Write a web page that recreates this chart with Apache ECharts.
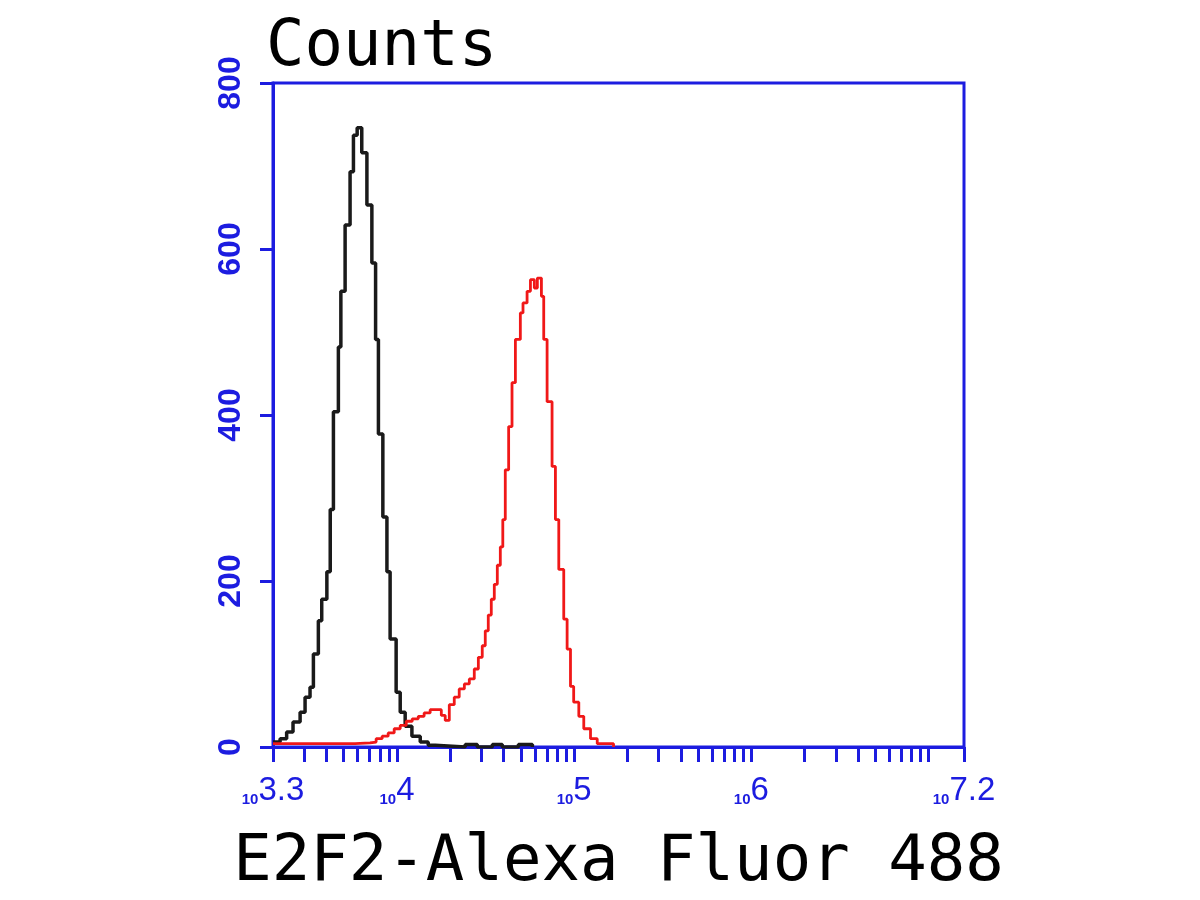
<!DOCTYPE html>
<html>
<head>
<meta charset="utf-8">
<script src="https://cdn.jsdelivr.net/npm/echarts@6/dist/echarts.min.js"></script>
<style>html,body{margin:0;padding:0;background:#fff}#c{width:1200px;height:900px}</style>
</head>
<body>
<div id="c"></div>
<script>
// x values are log10(fluorescence); y values are counts
const controlX = [3.300,3.340,3.377,3.413,3.453,3.481,3.509,3.528,3.556,3.575,3.604,3.623,3.641,3.669,3.683,3.707,3.735,3.754,3.775,3.801,3.830,3.858,3.879,3.895,3.920,3.943,3.961,3.995,4.018,4.046,4.084,4.131,4.176,4.216,4.385,4.453,4.538,4.594,4.685,4.764];
const controlY = [6,10,18,30,42,60,72,112,152,178,211,286,404,482,549,629,693,737,746,716,653,583,491,377,277,211,130,66,42,25,13,6,2,0,3,0,3,0,3,0];

const sampleX = [3.300,3.453,3.622,3.763,3.848,3.882,3.916,3.950,3.984,4.018,4.052,4.086,4.120,4.153,4.187,4.221,4.250,4.272,4.295,4.323,4.351,4.380,4.408,4.436,4.459,4.481,4.498,4.515,4.532,4.549,4.566,4.583,4.597,4.611,4.630,4.649,4.668,4.696,4.711,4.734,4.753,4.775,4.792,4.815,4.828,4.847,4.875,4.894,4.913,4.941,4.960,4.979,4.997,5.026,5.054,5.092,5.130,5.222];
const sampleY = [4,4,4,5,6,10,13,17,22,26,31,34,37,41,45,45,38,32,51,60,70,76,82,94,108,122,140,159,178,196,219,241,274,334,386,439,491,523,535,549,563,553,565,543,491,416,338,274,214,154,118,73,54,37,22,10,4,0];

const xLabelValues = [3.3, 4, 5, 6, 7.2];
const xLabelExponents = ['3.3', '4', '5', '6', '7.2'];
const tickDecades = [3, 4, 5, 6, 7];
const tickMultipliers = [1, 2, 3, 4, 5, 6, 7, 8, 9];
const yTicks = [0, 200, 400, 600, 800];

const xMin = 3.3, xMax = 7.2;
const tickValues = [xMin];
tickDecades.forEach(d => tickMultipliers.forEach(m => {
  const v = Math.log10(m * Math.pow(10, d));
  if (v > xMin + 1e-6 && v < xMax - 1e-6) tickValues.push(v);
}));
tickValues.push(xMax);

const BLUE = '#1c1ce0';
const chart = echarts.init(document.getElementById('c'), null, {renderer: 'canvas'});
chart.setOption({
  backgroundColor: '#ffffff',
  animation: false,
  title: {
    text: 'Counts', left: 266, top: 16, padding: 0,
    textStyle: {fontFamily: 'DejaVu Sans Mono', fontSize: 64, fontWeight: 'normal', color: '#000'}
  },
  grid: {left: 273, right: 236, top: 83, bottom: 152, show: true, borderColor: BLUE, borderWidth: 3, backgroundColor: 'transparent'},
  xAxis: {
    type: 'value', min: xMin, max: xMax,
    name: 'E2F2-Alexa Fluor 488', nameLocation: 'middle', nameGap: 84,
    nameTextStyle: {fontFamily: 'DejaVu Sans Mono', fontSize: 64, color: '#000'},
    axisLine: {show: true, lineStyle: {color: BLUE, width: 3}},
    axisTick: {show: true, customValues: tickValues, length: 15, lineStyle: {color: BLUE, width: 3}},
    splitLine: {show: false},
    axisLabel: {
      customValues: xLabelValues, margin: 27,
      formatter: function (v) {
        let idx = 0, best = 1e9;
        xLabelValues.forEach((x, i) => { if (Math.abs(x - v) < best) { best = Math.abs(x - v); idx = i; } });
        return '{s|10}{b|' + xLabelExponents[idx] + '}';
      },
      rich: {
        s: {fontSize: 15, fontWeight: 'bold', color: BLUE, fontFamily: 'Liberation Sans', verticalAlign: 'bottom'},
        b: {fontSize: 33, color: BLUE, fontFamily: 'Liberation Sans', verticalAlign: 'bottom'}
      }
    }
  },
  yAxis: {
    type: 'value', min: 0, max: 800, interval: 200,
    axisLine: {show: true, lineStyle: {color: BLUE, width: 3}},
    axisTick: {show: true, customValues: yTicks, length: 13, lineStyle: {color: BLUE, width: 3}},
    splitLine: {show: false},
    axisLabel: {rotate: 90, margin: 26, color: BLUE, fontSize: 32, fontWeight: 'bold', fontFamily: 'Liberation Sans'}
  },
  series: [
    {
      type: 'line', name: 'Control', step: 'end', showSymbol: false, symbol: 'none',
      data: controlX.map((x, i) => [x, controlY[i]]),
      lineStyle: {color: '#1a1a1a', width: 3.5}, z: 3
    },
    {
      type: 'line', name: 'E2F2', step: 'end', showSymbol: false, symbol: 'none',
      data: sampleX.map((x, i) => [x, sampleY[i]]),
      lineStyle: {color: '#f01818', width: 2.8}, z: 4
    }
  ]
});
</script>
</body>
</html>
